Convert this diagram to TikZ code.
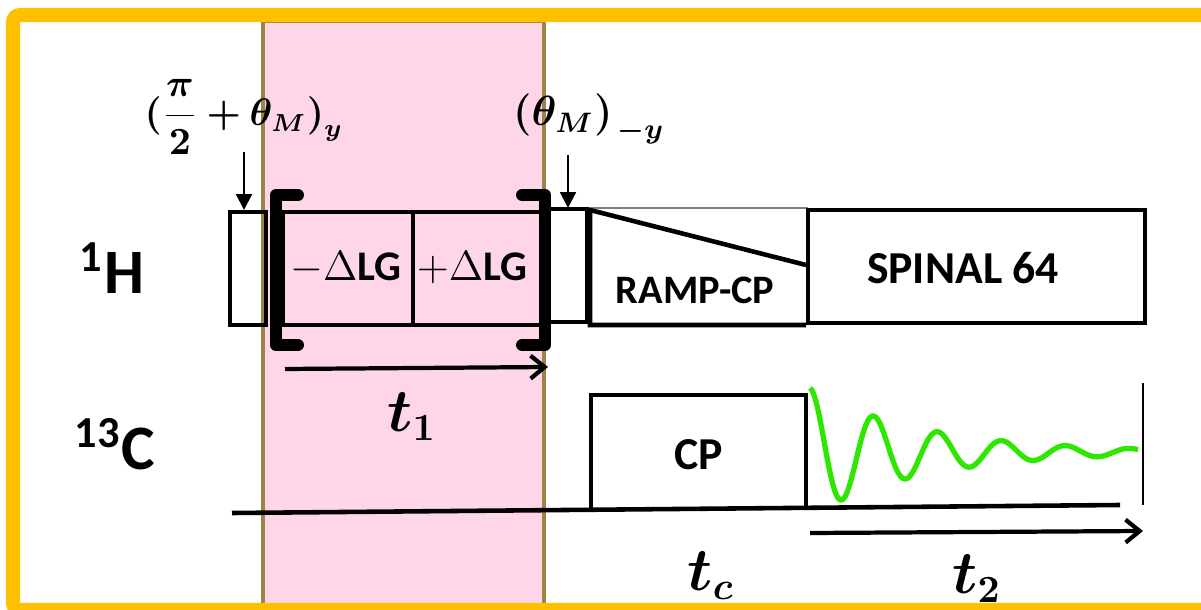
\documentclass[tikz,border=0pt]{standalone}
\usepackage{amsmath, amssymb, bm}
\usepackage{fontspec}
\newfontfamily\calib{Carlito}
\usepackage{xcolor}
\definecolor{pGold}{HTML}{FFC000}
\definecolor{pPink}{HTML}{FFD6E8}
\definecolor{pOlive}{HTML}{9C8446}
\definecolor{pGreen}{HTML}{2EE600}
\usetikzlibrary{arrows.meta}

\begin{document}
\begin{tikzpicture}[
  x=0.01cm, y=-0.01cm,
  pulse/.style={draw=black, line width=1.3pt},
  brack/.style={draw=black, line width=3.4pt, line cap=round, line join=round},
  nucl/.style={font=\calib\bfseries\fontsize{18}{20}\selectfont},
  ptext/.style={font=\calib\bfseries\fontsize{13}{15}\selectfont},
  mtext/.style={font=\fontsize{16}{18}\selectfont},
  flipto/.style={-{Triangle[length=4.5pt,width=4.5pt]}, line width=0.6pt},
  timeax/.style={-{Straight Barb[length=4pt,width=6.5pt]}, line width=1.2pt}
]
\useasboundingbox (0,0) rectangle (1201,610);

\draw[fill=pPink, draw=pOlive, line width=0.9pt] (263,21) rectangle (544,620);
\draw[pGold, line width=4pt, rounded corners=2pt] (13,15) rectangle (1240,610);

\node[nucl] (lblH) at (112,268) {$^{\textbf{1}}$H};
\node[nucl] (lblC) at (115,444) {$^{\textbf{13}}$C};

% 1H channel
\draw[pulse] (230,212) rectangle (266,325);
\draw[pulse] (283,212) rectangle (413,325);
\draw[pulse] (413,212) rectangle (548,325);
\draw[brack] (298,195) -- (276,195) -- (276,345) -- (298,345);
\draw[brack] (522,195) -- (545,195) -- (545,345) -- (522,345);
\draw[pulse] (549,209) rectangle (587,322);
\draw[draw=gray, line width=0.4pt] (590,208) -- (808,208);
\draw[pulse] (806,265) -- (590,210) -- (590,325) -- (806,325);
\draw[pulse] (808,210) rectangle (1145,323);

\node[ptext, font=\calib\bfseries\fontsize{12}{14}\selectfont] (mLG) at (346,268) {$-\Delta$LG};
\node[ptext, font=\calib\bfseries\fontsize{12}{14}\selectfont] (pLG) at (472,268) {$+\Delta$LG};
\node[ptext, font=\calib\bfseries\fontsize{11.5}{14}\selectfont] (ramp) at (695,290) {RAMP-CP};
\node[ptext] (spinal) at (963,268) {SPINAL 64};

\node[font=\fontsize{10.5}{13}\selectfont] (magic) at (244,117)
  {$\boldsymbol{(\dfrac{\pi}{2}+\theta_M)_y}$};
\node[font=\fontsize{11.5}{14}\selectfont] (back) at (589,119)
  {$\boldsymbol{(\theta_M)}_{\,\boldsymbol{-y}}$};
\coordinate (magicP) at (244,210);
\coordinate (backP) at (568,208);
\draw[flipto] (244,152) -- (magicP);
\draw[flipto] (568,155) -- (backP);

\coordinate (t1a) at (285,369);
\coordinate (t1b) at (548,367);
\draw[timeax] (t1a) -- (t1b);
\node[mtext] (t1) at (412,417) {$\boldsymbol{t_1}$};

% 13C channel
\draw[pulse] (232,513) -- (1120,505);
\draw[pulse] (591,509) -- (591,395) -- (806,395) -- (806,508);
\node[ptext] (cp) at (699,455) {CP};
\draw[pGreen, line width=1.5pt, line join=round]
  plot[domain=0:328, samples=160, smooth] ({810+\x}, {452-64*exp(-0.009*\x)*cos(5.625*\x)});
\draw[line width=0.5pt] (1143,383) -- (1143,505);

\coordinate (t2a) at (810,533);
\coordinate (t2b) at (1143,531);
\draw[timeax] (t2a) -- (t2b);
\node[mtext] (tc) at (711,576) {$\boldsymbol{t_c}$};
\node[mtext] (t2) at (977,579) {$\boldsymbol{t_2}$};
\end{tikzpicture}
\end{document}
